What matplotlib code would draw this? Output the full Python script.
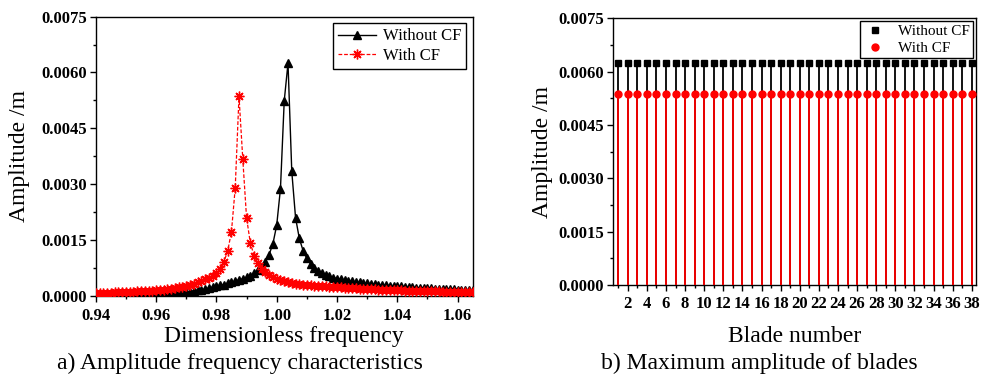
import matplotlib
matplotlib.use('Agg')
import matplotlib.pyplot as plt
from matplotlib.ticker import MultipleLocator, FormatStrFormatter

plt.rcParams['font.family'] = ['Liberation Serif', 'DejaVu Serif']
plt.rcParams['mathtext.fontset'] = 'stix'

# frequency sweep (dimensionless), one row per 0.01
freq = [
    0.94000, 0.94125, 0.94250, 0.94375, 0.94500, 0.94625, 0.94750, 0.94875,
    0.95000, 0.95125, 0.95250, 0.95375, 0.95500, 0.95625, 0.95750, 0.95875,
    0.96000, 0.96125, 0.96250, 0.96375, 0.96500, 0.96625, 0.96750, 0.96875,
    0.97000, 0.97125, 0.97250, 0.97375, 0.97500, 0.97625, 0.97750, 0.97875,
    0.98000, 0.98125, 0.98250, 0.98375, 0.98500, 0.98625, 0.98750, 0.98875,
    0.99000, 0.99125, 0.99250, 0.99375, 0.99500, 0.99625, 0.99750, 0.99875,
    1.00000, 1.00125, 1.00250, 1.00375, 1.00500, 1.00625, 1.00750, 1.00875,
    1.01000, 1.01125, 1.01250, 1.01375, 1.01500, 1.01625, 1.01750, 1.01875,
    1.02000, 1.02125, 1.02250, 1.02375, 1.02500, 1.02625, 1.02750, 1.02875,
    1.03000, 1.03125, 1.03250, 1.03375, 1.03500, 1.03625, 1.03750, 1.03875,
    1.04000, 1.04125, 1.04250, 1.04375, 1.04500, 1.04625, 1.04750, 1.04875,
    1.05000, 1.05125, 1.05250, 1.05375, 1.05500, 1.05625, 1.05750, 1.05875,
    1.06000, 1.06125, 1.06250, 1.06375, 1.06500,
]

# amplitude without centrifugal force (m)
amp_no_cf = [
    0.000020, 0.000021, 0.000022, 0.000023, 0.000024, 0.000026, 0.000027, 0.000028,
    0.000030, 0.000032, 0.000034, 0.000036, 0.000039, 0.000041, 0.000044, 0.000047,
    0.000050, 0.000055, 0.000059, 0.000065, 0.000071, 0.000077, 0.000084, 0.000092,
    0.000100, 0.000112, 0.000127, 0.000142, 0.000160, 0.000179, 0.000200, 0.000224,
    0.000250, 0.000274, 0.000300, 0.000329, 0.000360, 0.000389, 0.000420, 0.000454,
    0.000490, 0.000538, 0.000600, 0.000677, 0.000778, 0.000914, 0.001106, 0.001398,
    0.001893, 0.002877, 0.005238, 0.006250, 0.003339, 0.002098, 0.001540, 0.001210,
    0.001000, 0.000853, 0.000752, 0.000669, 0.000604, 0.000555, 0.000516, 0.000485,
    0.000460, 0.000438, 0.000419, 0.000401, 0.000386, 0.000371, 0.000357, 0.000344,
    0.000331, 0.000319, 0.000308, 0.000299, 0.000289, 0.000280, 0.000272, 0.000264,
    0.000257, 0.000248, 0.000240, 0.000233, 0.000226, 0.000219, 0.000213, 0.000207,
    0.000202, 0.000196, 0.000191, 0.000186, 0.000181, 0.000176, 0.000172, 0.000168,
    0.000164, 0.000160, 0.000156, 0.000152, 0.000149,
]

# amplitude with centrifugal force (m)
amp_cf = [
    0.000070, 0.000073, 0.000077, 0.000080, 0.000084, 0.000087, 0.000091, 0.000096,
    0.000100, 0.000104, 0.000109, 0.000113, 0.000118, 0.000123, 0.000129, 0.000134,
    0.000140, 0.000151, 0.000163, 0.000176, 0.000191, 0.000206, 0.000223, 0.000241,
    0.000260, 0.000289, 0.000321, 0.000356, 0.000395, 0.000439, 0.000487, 0.000540,
    0.000600, 0.000720, 0.000910, 0.001200, 0.001720, 0.002900, 0.005360, 0.003680,
    0.002100, 0.001420, 0.001080, 0.000870, 0.000730, 0.000630, 0.000556, 0.000497,
    0.000451, 0.000413, 0.000385, 0.000361, 0.000341, 0.000323, 0.000308, 0.000297,
    0.000287, 0.000278, 0.000270, 0.000263, 0.000256, 0.000249, 0.000242, 0.000235,
    0.000229, 0.000223, 0.000216, 0.000208, 0.000201, 0.000195, 0.000188, 0.000183,
    0.000177, 0.000172, 0.000167, 0.000163, 0.000159, 0.000154, 0.000151, 0.000147,
    0.000143, 0.000140, 0.000137, 0.000134, 0.000131, 0.000128, 0.000125, 0.000122,
    0.000120, 0.000118, 0.000115, 0.000113, 0.000111, 0.000109, 0.000107, 0.000105,
    0.000103, 0.000101, 0.000100, 0.000098, 0.000096,
]

# maximum amplitude per blade (m)
blades = [
    1, 2, 3, 4, 5, 6, 7, 8, 9, 10, 11, 12, 13, 14, 15, 16, 17, 18, 19,
    20, 21, 22, 23, 24, 25, 26, 27, 28, 29, 30, 31, 32, 33, 34, 35, 36, 37, 38,
]
blade_max_no_cf = [
    0.00625, 0.00625, 0.00625, 0.00625, 0.00625, 0.00625, 0.00625, 0.00625,
    0.00625, 0.00625, 0.00625, 0.00625, 0.00625, 0.00625, 0.00625, 0.00625,
    0.00625, 0.00625, 0.00625, 0.00625, 0.00625, 0.00625, 0.00625, 0.00625,
    0.00625, 0.00625, 0.00625, 0.00625, 0.00625, 0.00625, 0.00625, 0.00625,
    0.00625, 0.00625, 0.00625, 0.00625, 0.00625, 0.00625,
]
blade_max_cf = [
    0.00536, 0.00536, 0.00536, 0.00536, 0.00536, 0.00536, 0.00536, 0.00536,
    0.00536, 0.00536, 0.00536, 0.00536, 0.00536, 0.00536, 0.00536, 0.00536,
    0.00536, 0.00536, 0.00536, 0.00536, 0.00536, 0.00536, 0.00536, 0.00536,
    0.00536, 0.00536, 0.00536, 0.00536, 0.00536, 0.00536, 0.00536, 0.00536,
    0.00536, 0.00536, 0.00536, 0.00536, 0.00536, 0.00536,
]

TICK_FS = 12
LABEL_FS = 17


def style_axes(ax):
    for sp in ax.spines.values():
        sp.set_linewidth(1.0)
        sp.set_color('black')
    ax.tick_params(which='both', direction='out', top=False, right=False,
                   width=1.0, labelsize=TICK_FS)
    ax.tick_params(which='major', length=4)
    ax.tick_params(which='minor', length=2.5)
    ax.tick_params(axis='y', pad=2.5)
    for lab in ax.get_xticklabels() + ax.get_yticklabels():
        lab.set_fontweight('bold')


def plot_frequency_response(ax):
    ax.plot(freq, amp_no_cf, color='black', lw=1.0, marker='^', ms=6,
            label='Without CF', zorder=2)
    ax.plot(freq, amp_cf, color='red', lw=0.9, ls=(0, (3, 1.5)),
            marker=(8, 2, 0), ms=7, mew=1.0, label='With CF', zorder=3)

    ax.set_xlim(0.94, 1.065)
    ax.set_ylim(0, 0.0075)
    ax.xaxis.set_major_locator(MultipleLocator(0.02))
    ax.xaxis.set_minor_locator(MultipleLocator(0.01))
    ax.xaxis.set_major_formatter(FormatStrFormatter('%.2f'))
    ax.yaxis.set_major_locator(MultipleLocator(0.0015))
    ax.yaxis.set_minor_locator(MultipleLocator(0.00075))
    ax.yaxis.set_major_formatter(FormatStrFormatter('%.4f'))
    ax.tick_params(axis='x', pad=5)

    ax.set_xlabel('Dimensionless frequency', fontsize=LABEL_FS, labelpad=1)
    ax.set_ylabel('Amplitude /m', fontsize=LABEL_FS, labelpad=8)

    leg = ax.legend(loc='upper right', fontsize=12, numpoints=1,
                    handlelength=2.3, handletextpad=0.4, borderpad=0.3,
                    labelspacing=0.2, fancybox=False, framealpha=1,
                    edgecolor='black', borderaxespad=0.4)
    leg.get_frame().set_linewidth(1.0)
    style_axes(ax)


def plot_blade_max(ax):
    # stems first, red drawn over the lower part of the black ones
    ax.vlines(blades, 0, blade_max_no_cf, color='black', lw=1.3, zorder=2)
    ax.vlines(blades, 0, blade_max_cf, color='red', lw=1.3, zorder=3)
    ax.plot(blades, blade_max_no_cf, ls='none', marker='s', ms=4.4,
            color='black', label='Without CF', zorder=4)
    ax.plot(blades, blade_max_cf, ls='none', marker='o', ms=5,
            color='red', label='With CF', zorder=5)

    ax.set_xlim(0.5, 38.45)
    ax.set_ylim(0, 0.0075)
    ax.xaxis.set_major_locator(MultipleLocator(2))
    ax.xaxis.set_minor_locator(MultipleLocator(1))
    ax.yaxis.set_major_locator(MultipleLocator(0.0015))
    ax.yaxis.set_minor_locator(MultipleLocator(0.00075))
    ax.yaxis.set_major_formatter(FormatStrFormatter('%.4f'))
    ax.tick_params(axis='x', pad=4)

    ax.set_xlabel('Blade number', fontsize=LABEL_FS, labelpad=10)
    ax.set_ylabel('Amplitude /m', fontsize=LABEL_FS, labelpad=4)

    leg = ax.legend(loc='upper right', fontsize=11, numpoints=1,
                    handlelength=1.6, handletextpad=0.7, borderpad=0.2,
                    labelspacing=0.2, fancybox=False, framealpha=1,
                    edgecolor='black', borderaxespad=0.2)
    leg.get_frame().set_linewidth(1.0)
    style_axes(ax)


def main():
    fig = plt.figure(figsize=(9.83, 3.74), dpi=100)
    ax1 = fig.add_axes([0.0974, 0.2094, 0.3835, 0.746])
    ax2 = fig.add_axes([0.624, 0.238, 0.369, 0.713])

    plot_frequency_response(ax1)
    plot_blade_max(ax2)

    fig.text(0.244, 0.013, 'a) Amplitude frequency characteristics',
             fontsize=LABEL_FS, ha='center', va='baseline')
    fig.text(0.7727, 0.013, 'b) Maximum amplitude of blades',
             fontsize=LABEL_FS, ha='center', va='baseline')

    fig.savefig('out.png', dpi=100)
    plt.close(fig)


if __name__ == '__main__':
    main()
